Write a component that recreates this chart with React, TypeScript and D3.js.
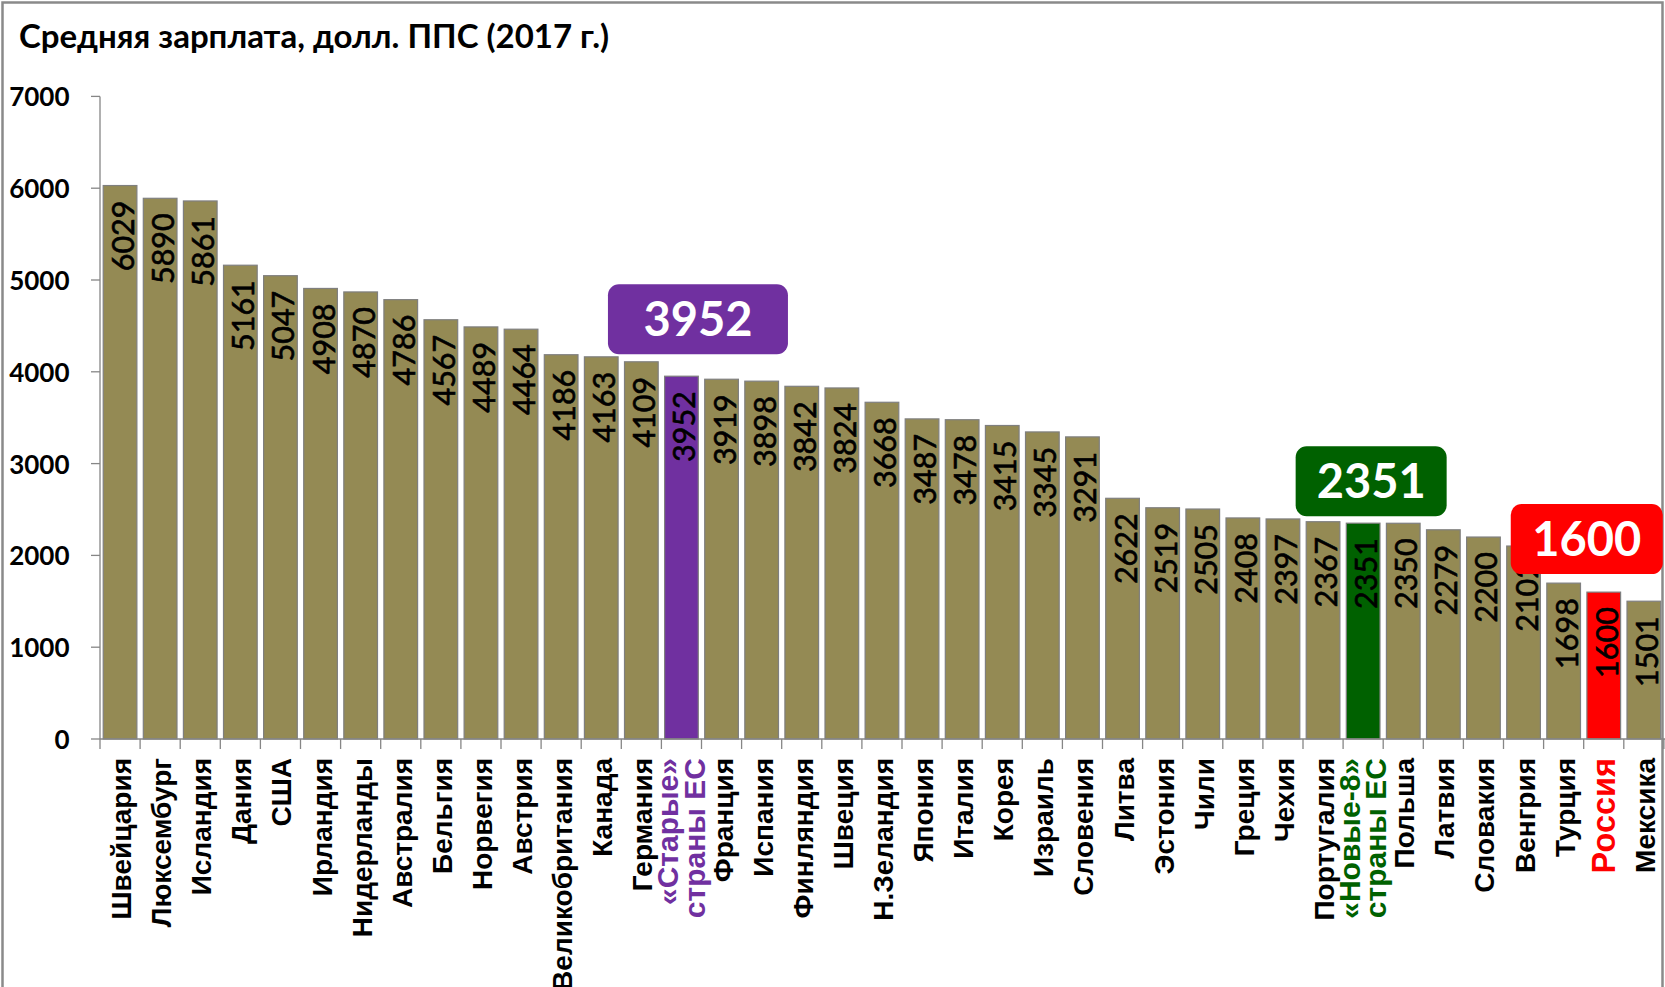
import React from 'react';
import * as d3 from 'd3';

const categories: string[] = [
  'Швейцария', 'Люксембург', 'Исландия', 'Дания', 'США', 'Ирландия', 'Нидерланды',
  'Австралия', 'Бельгия', 'Норвегия', 'Австрия', 'Великобритания', 'Канада', 'Германия',
  '«Старые»\nстраны ЕС', 'Франция', 'Испания', 'Финляндия', 'Швеция', 'Н.Зеландия',
  'Япония', 'Италия', 'Корея', 'Израиль', 'Словения', 'Литва', 'Эстония', 'Чили',
  'Греция', 'Чехия', 'Португалия', '«Новые-8»\nстраны ЕС', 'Польша', 'Латвия',
  'Словакия', 'Венгрия', 'Турция', 'Россия', 'Мексика',
];

const values: number[] = [
  6029, 5890, 5861, 5161, 5047, 4908, 4870, 4786, 4567, 4489, 4464, 4186, 4163, 4109,
  3952, 3919, 3898, 3842, 3824, 3668, 3487, 3478, 3415, 3345, 3291, 2622, 2519, 2505,
  2408, 2397, 2367, 2351, 2350, 2279, 2200, 2102, 1698, 1600, 1501,
];

const yTicks: number[] = [0, 1000, 2000, 3000, 4000, 5000, 6000, 7000];

const title = 'Средняя зарплата, долл. ППС (2017 г.)';

const highlighted: string[] = ['«Старые»\nстраны ЕС', '«Новые-8»\nстраны ЕС', 'Россия'];
const highlightColors: string[] = ['#7030A0', '#006100', '#FF0000'];
const highlightLabelColors: string[] = ['#7030A0', '#006100', '#FF0000'];
const highlightLabelSizes: number[] = [30, 30, 32.5];

// callout placement (style/offsets), keyed to highlighted categories
const calloutDx: number[] = [16.5, 8, -17];
const calloutGap: number[] = [22, 7, 18];
const calloutW: number[] = [180, 151, 152];

const BAR_COLOR = '#948A54';
const W = 1665;
const H = 987;

export default function App() {
  const left = 100;
  const step = 40.1;
  const x = d3
    .scaleBand<string>()
    .domain(categories)
    .range([left, left + step * categories.length])
    .paddingInner(0.16)
    .paddingOuter(0.08);
  const y = d3.scaleLinear().domain([0, 7000]).range([739, 96.4]);

  const colorOf = (c: string) => {
    const i = highlighted.indexOf(c);
    return i >= 0 ? highlightColors[i] : BAR_COLOR;
  };
  const labelColorOf = (c: string) => {
    const i = highlighted.indexOf(c);
    return i >= 0 ? highlightLabelColors[i] : '#000';
  };
  const labelSizeOf = (c: string) => {
    const i = highlighted.indexOf(c);
    return i >= 0 ? highlightLabelSizes[i] : 28;
  };

  const bandOffset = (x.step() - x.bandwidth()) / 2;
  const tickXs = categories.map((c) => (x(c) as number) - bandOffset);
  tickXs.push((x(categories[categories.length - 1]) as number) + x.bandwidth() + bandOffset);

  return (
    <svg
      width={W}
      height={H}
      style={{ position: 'absolute', left: 0, top: 0, background: '#fff' }}
    >
      <rect x={0} y={0} width={W} height={H} fill="#fff" />
      <rect x={2.5} y={2.5} width={1660} height={1100} fill="none" stroke="#8a8a8a" strokeWidth={2.5} />
      <text x={19} y={48} fontFamily="Lato" fontWeight="bold" fontSize={33} fill="#000">
        {title}
      </text>

      {/* y axis */}
      <line x1={left} x2={left} y1={y(7000)} y2={y(0)} stroke="#868686" strokeWidth={1.3} />
      {yTicks.map((t) => (
        <g key={t}>
          <line x1={91} x2={left} y1={y(t)} y2={y(t)} stroke="#868686" strokeWidth={1.3} />
          <text
            x={69.5}
            y={y(t)}
            textAnchor="end"
            dominantBaseline="central"
            fontFamily="Lato"
            fontWeight="bold"
            fontSize={26}
            fill="#000"
          >
            {t}
          </text>
        </g>
      ))}

      {/* bars */}
      {categories.map((c, i) => (
        <rect
          key={c}
          x={x(c)}
          y={y(values[i])}
          width={x.bandwidth()}
          height={y(0) - y(values[i])}
          fill={colorOf(c)}
          stroke="#7f7f7f"
          strokeWidth={1.2}
        />
      ))}

      {/* x axis */}
      <line x1={left} x2={W} y1={y(0)} y2={y(0)} stroke="#868686" strokeWidth={1.3} />
      {tickXs.map((tx, i) => (
        <line key={i} x1={tx} x2={tx} y1={y(0)} y2={y(0) + 10} stroke="#868686" strokeWidth={1.3} />
      ))}

      {/* value labels */}
      {categories.map((c, i) => {
        const cx = (x(c) as number) + x.bandwidth() / 2;
        return (
          <text
            key={c}
            transform={`translate(${cx + 14},${y(values[i]) + 15}) rotate(-90)`}
            textAnchor="end"
            fontFamily="Lato"
            fontSize={30.5}
            fill="#000"
            stroke="#000"
            strokeWidth={0.6}
          >
            {values[i]}
          </text>
        );
      })}

      {/* category labels */}
      {categories.map((c) => {
        const cx = (x(c) as number) + x.bandwidth() / 2;
        const lines = c.split('\n');
        return (
          <g key={c}>
            {lines.map((ln, j) => {
              const bx = lines.length === 1 ? cx + 11 : cx - 3.5 + j * 26.7;
              return (
                <text
                  key={j}
                  transform={`translate(${bx},758) rotate(-90)`}
                  textAnchor="end"
                  fontFamily="Liberation Sans"
                  fontWeight="bold"
                  fontSize={labelSizeOf(c)}
                  fill={labelColorOf(c)}
                >
                  {ln}
                </text>
              );
            })}
          </g>
        );
      })}

      {/* callouts */}
      {highlighted.map((c, k) => {
        const i = categories.indexOf(c);
        const cx = (x(c) as number) + x.bandwidth() / 2 + calloutDx[k];
        const bottom = y(values[i]) - calloutGap[k];
        const h = 70;
        const w = calloutW[k];
        return (
          <g key={c}>
            <rect x={cx - w / 2} y={bottom - h} width={w} height={h} rx={11} fill={highlightColors[k]} />
            <text
              x={cx}
              y={bottom - h / 2 + 17}
              textAnchor="middle"
              fontFamily="Lato"
              fontWeight="bold"
              fontSize={47}
              fill="#fff"
            >
              {values[i]}
            </text>
          </g>
        );
      })}
    </svg>
  );
}
